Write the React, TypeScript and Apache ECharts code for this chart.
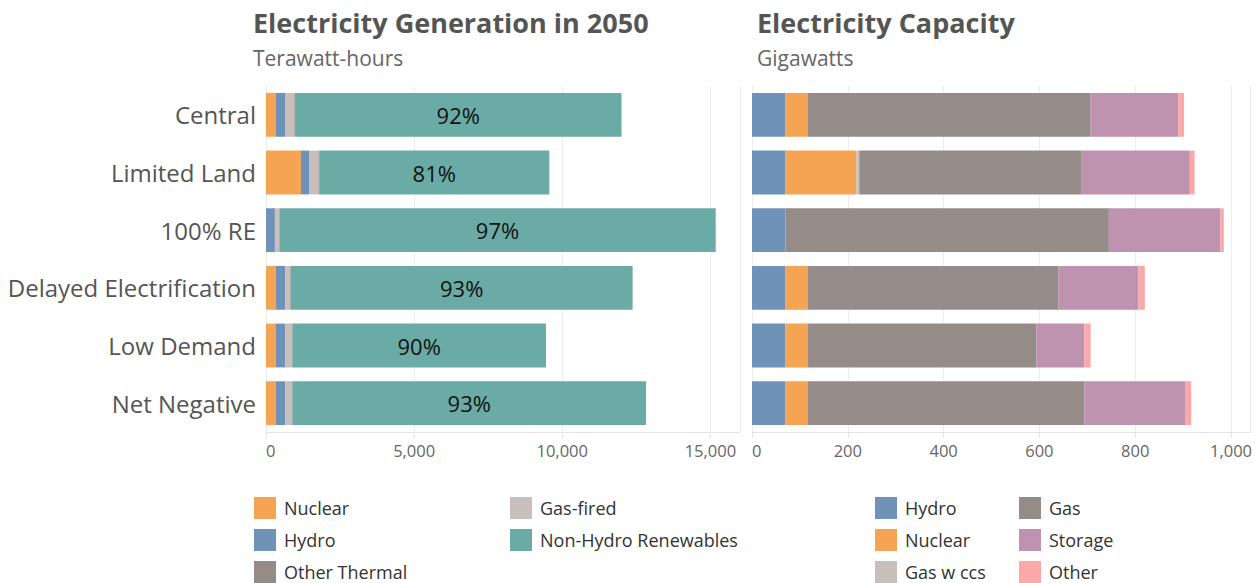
import React, { useEffect, useRef } from "react";
import * as echarts from "echarts";

const scenarios = ["Central", "Limited Land", "100% RE", "Delayed Electrification", "Low Demand", "Net Negative"];

// Generation (TWh)
const genNuclear = [320, 1180, 0, 325, 325, 325];
const genHydro = [340, 290, 300, 330, 330, 330];
const genGasFired = [300, 305, 150, 160, 215, 215];
const genOtherThermal = [20, 20, 0, 20, 20, 20];
const genNonHydro = [11020, 7770, 14730, 11540, 8560, 11940];
const genShareLabels = ["92%", "81%", "97%", "93%", "90%", "93%"];

// Capacity (GW)
const capHydro = [70, 70, 70, 70, 70, 70];
const capNuclear = [47, 148, 0, 47, 47, 47];
const capGasCcs = [0, 6, 0, 0, 0, 0];
const capGas = [590, 463, 675, 523, 477, 577];
const capStorage = [183, 227, 233, 167, 100, 210];
const capOther = [12, 10, 7, 13, 13, 13];

const genTicks = { min: 0, max: 16000, interval: 5000 };
const capTicks = { min: 0, max: 1040, interval: 200 };

const C = {
  nuclear: "#F4A452",
  hydro: "#6F93B8",
  gasFired: "#C8BEBB",
  otherThermal: "#958B88",
  nonHydro: "#6BABA6",
  gas: "#958B88",
  storage: "#BF92B0",
  other: "#FDA8A8",
};

const FONT = "'Open Sans', 'Noto Sans', sans-serif";

export default function App() {
  const ref = useRef<HTMLDivElement>(null);
  useEffect(() => {
    if (!ref.current) return;
    const chart = echarts.init(ref.current, undefined, { renderer: "svg" });
    const barBase = { type: "bar", barCategoryGap: "24%", emphasis: { disabled: true } };
    const genSeries = [
      { name: "Nuclear", data: genNuclear, color: C.nuclear },
      { name: "Hydro", data: genHydro, color: C.hydro },
      { name: "Gas-fired", data: genGasFired, color: C.gasFired },
      { name: "Other Thermal", data: genOtherThermal, color: C.otherThermal },
      { name: "Non-Hydro Renewables", data: genNonHydro, color: C.nonHydro },
    ].map((s) => ({
      ...barBase,
      name: s.name,
      stack: "gen",
      xAxisIndex: 0,
      yAxisIndex: 0,
      data: s.data,
      itemStyle: { color: s.color },
      label:
        s.name === "Non-Hydro Renewables"
          ? {
              show: true,
              position: "inside",
              color: "#111",
              fontSize: 22,
              fontFamily: FONT,
              formatter: (p: any) => genShareLabels[p.dataIndex],
            }
          : { show: false },
    }));
    const capSeries = [
      { name: "Hydro", data: capHydro, color: C.hydro },
      { name: "Nuclear", data: capNuclear, color: C.nuclear },
      { name: "Gas w ccs", data: capGasCcs, color: C.gasFired },
      { name: "Gas", data: capGas, color: C.gas },
      { name: "Storage", data: capStorage, color: C.storage },
      { name: "Other", data: capOther, color: C.other },
    ].map((s) => ({
      ...barBase,
      name: s.name,
      stack: "cap",
      xAxisIndex: 1,
      yAxisIndex: 1,
      data: s.data,
      itemStyle: { color: s.color },
    }));

    const xAxisCommon = {
      type: "value",
      axisLine: { show: true, lineStyle: { color: "#e4e4e4" } },
      axisTick: { show: true, length: 6, lineStyle: { color: "#e4e4e4" } },
      splitLine: { show: true, lineStyle: { color: "#ececec" } },
      axisLabel: {
        color: "#666",
        fontSize: 16.5,
        fontFamily: FONT,
        margin: 10,
        showMaxLabel: false,
        alignMinLabel: "left",
        formatter: (v: number) => v.toLocaleString("en-US"),
      },
    };
    const yAxisCommon = {
      type: "category",
      data: scenarios,
      inverse: true,
      axisLine: { show: true, lineStyle: { color: "#ececec" } },
      axisTick: { show: false },
    };
    const legendCommon = {
      orient: "vertical",
      itemWidth: 22,
      itemHeight: 22,
      itemGap: 10,
      padding: 0,
      icon: "rect",
      selectedMode: false,
      textStyle: { color: "#333", fontSize: 18, fontFamily: FONT, padding: [0, 0, 0, 3] },
      top: 497,
    };
    const titleCommon = {
      top: 4,
      itemGap: 11,
      textStyle: { color: "#555", fontSize: 27, fontWeight: "bold", fontFamily: FONT },
      subtextStyle: { color: "#666", fontSize: 21, fontFamily: FONT },
    };

    chart.setOption({
      animation: false,
      textStyle: { fontFamily: FONT },
      title: [
        { ...titleCommon, text: "Electricity Generation in 2050", subtext: "Terawatt-hours", left: 248 },
        { ...titleCommon, text: "Electricity Capacity", subtext: "Gigawatts", left: 752 },
      ],
      legend: [
        { ...legendCommon, left: 254, data: ["Nuclear", "Hydro", "Other Thermal"] },
        { ...legendCommon, left: 510, data: ["Gas-fired", "Non-Hydro Renewables"] },
        { ...legendCommon, left: 875, data: ["Hydro", "Nuclear", "Gas w ccs"] },
        { ...legendCommon, left: 1019, data: ["Gas", "Storage", "Other"] },
      ],
      grid: [
        { left: 266, right: 1255 - 740, top: 86, bottom: 151, containLabel: false },
        { left: 752, right: 3, top: 86, bottom: 151, containLabel: false },
      ],
      xAxis: [
        { ...xAxisCommon, gridIndex: 0, ...genTicks },
        { ...xAxisCommon, gridIndex: 1, ...capTicks },
      ],
      yAxis: [
        {
          ...yAxisCommon,
          gridIndex: 0,
          axisLabel: { color: "#555", fontSize: 24, fontFamily: FONT, margin: 10 },
        },
        { ...yAxisCommon, gridIndex: 1, axisLabel: { show: false } },
      ],
      series: [...genSeries, ...capSeries],
    });
    return () => chart.dispose();
  }, []);
  return (
    <div
      ref={ref}
      style={{ position: "absolute", left: 0, top: 0, width: 1255, height: 583, overflow: "hidden" }}
    />
  );
}
